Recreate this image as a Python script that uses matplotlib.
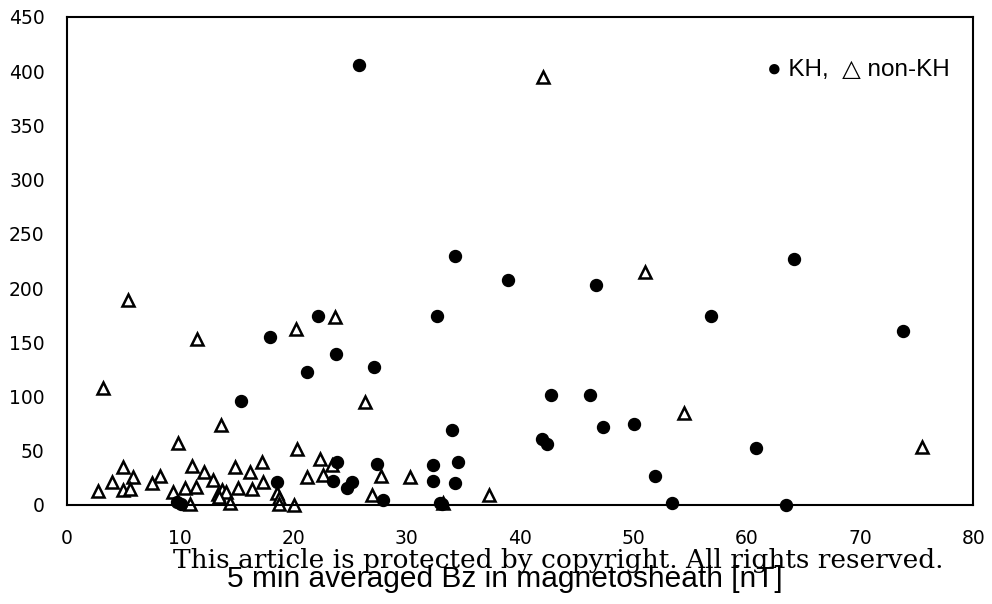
import matplotlib.pyplot as plt

# KH events: 5-min averaged Bz (nT) and y value
kh_bz = [25.8, 34.3, 38.9, 46.7, 64.2, 56.9, 73.8, 32.7, 22.2, 17.9,
         23.75, 21.2, 27.1, 15.4, 42.7, 46.2, 47.3, 50.1, 33.97, 41.9,
         42.4, 60.8, 51.9, 53.4, 63.5, 27.4, 32.35, 34.5, 32.3, 34.3,
         27.9, 32.9, 23.8, 23.5, 24.7, 25.2, 18.5, 9.7, 10.1, 33.1]
kh_val = [406, 230, 207.5, 203, 226.6, 174.6, 160.4, 174.6, 174.6, 154.6,
          139.2, 122.9, 127.6, 96, 101.5, 101.5, 72.2, 74.4, 69, 60.6,
          56.3, 52.2, 26.5, 1.5, 0, 37.8, 37, 39.4, 22.4, 20.6,
          4.6, 1.5, 39.5, 22.4, 15.4, 21.5, 21.5, 2.5, 0.5, 0.5]

# non-KH events
non_bz = [42.06, 51.0, 5.36, 11.45, 20.2, 23.7, 3.2, 26.3, 13.6, 54.5,
          75.5, 9.84, 20.3, 22.3, 4.97, 11.0, 12.1, 8.2, 5.86, 3.95,
          7.48, 2.77, 4.97, 5.56, 12.9, 10.4, 11.4, 9.33, 10.86, 14.8,
          17.2, 16.2, 15.1, 16.3, 17.3, 13.3, 13.7, 14.0, 14.4, 18.5,
          18.7, 18.7, 20.0, 21.2, 22.6, 23.4, 26.9, 27.7, 30.3, 37.3,
          33.2, 13.4]
non_val = [394.4, 215.2, 189, 152.8, 162.3, 173.6, 108, 95.3, 73.8, 84.5,
           53.8, 57.5, 51.5, 42, 34.7, 36, 30.7, 26.7, 25.5, 21.5,
           20, 13.2, 13.8, 14.5, 23, 15.4, 16.9, 12.3, 1, 34.7,
           40, 30.1, 15.4, 14.5, 21.5, 10, 14, 12, 1.5, 10.8,
           6, 0.5, 0, 25.5, 27.7, 37, 9, 27, 25.5, 9.2,
           1.5, 7.7]

x_ticks = list(range(0, 81, 10))
y_ticks = list(range(0, 451, 50))

fig = plt.figure(figsize=(9.92, 6.04), dpi=100)
ax = fig.add_axes([0.0675, 0.164, 0.9135, 0.808])

ax.plot(non_bz, non_val, linestyle="none", marker="^", markersize=9,
        markerfacecolor="white", markeredgecolor="black", markeredgewidth=1.8,
        clip_on=False)
ax.plot(kh_bz, kh_val, linestyle="none", marker="o", markersize=8.6,
        color="black", clip_on=False)

ax.set_xlim(0, 80)
ax.set_ylim(0, 450)
ax.set_xticks(x_ticks)
ax.set_yticks(y_ticks)
ax.tick_params(length=0, labelsize=13.5, pad=16)
ax.tick_params(axis="x", pad=17)
for sp in ax.spines.values():
    sp.set_linewidth(1.5)

ax.text(0.974, 0.891, "\u25cf KH,  \u25b3 non-KH", transform=ax.transAxes,
        ha="right", va="center", fontsize=17.5,
        family=["Liberation Sans", "DejaVu Sans"])

fig.text(0.509, 0.0281, "5 min averaged Bz in magnetosheath [nT]",
         ha="center", va="baseline", fontsize=21.5, family="Liberation Sans")
fig.text(0.5625, 0.0596, "This article is protected by copyright. All rights reserved.",
         ha="center", va="baseline", fontsize=19, family="DejaVu Serif")

fig.savefig("out.png", dpi=100)
